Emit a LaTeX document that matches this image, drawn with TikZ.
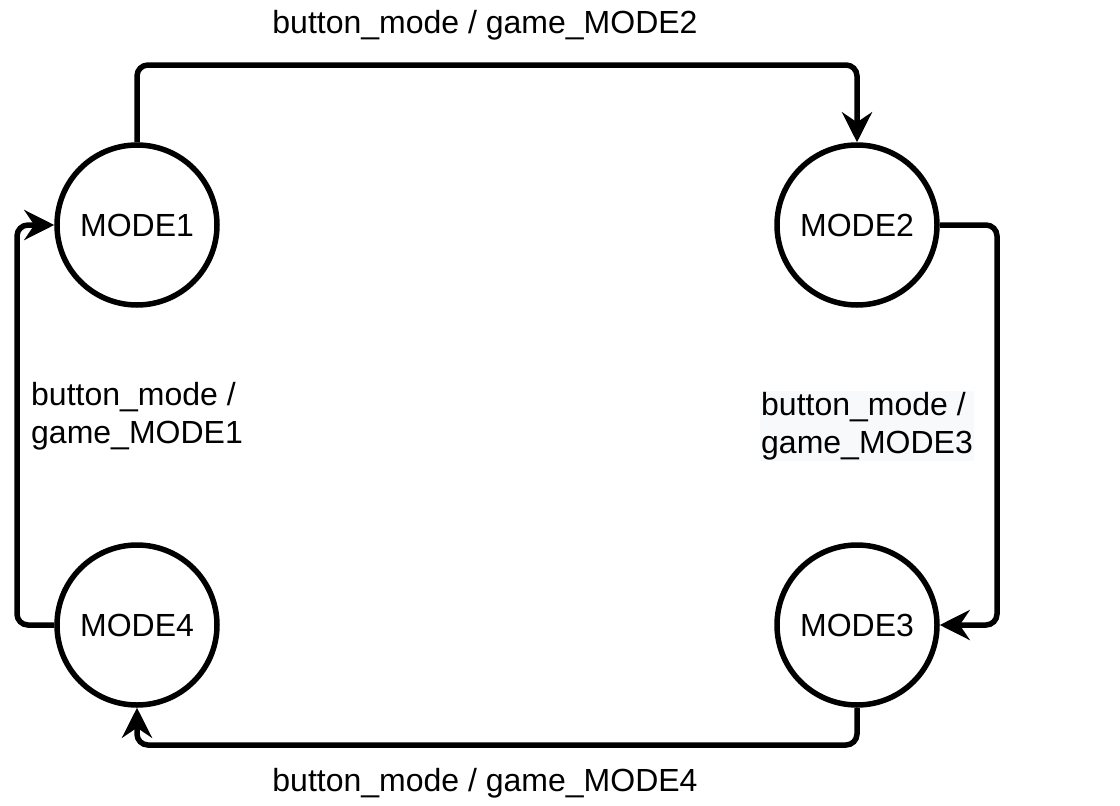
\documentclass[tikz,border=0pt]{standalone}
\usepackage{fontspec}
\setmainfont{Liberation Sans}
\usetikzlibrary{arrows.meta}
\definecolor{lblbg}{HTML}{F8F9FA}
\begin{document}
\begin{tikzpicture}[x=1pt,y=-1pt,
  state/.style={circle,draw,line width=5.5pt,minimum size=160pt,inner sep=0pt,font=\fontsize{32}{38.5}\selectfont},
  conn/.style={line width=5.5pt,rounded corners=11pt,-{Stealth[length=30pt,width=30pt,inset=10pt]}},
  lbl/.style={inner sep=0pt,font=\fontsize{32}{38.5}\selectfont}]
\useasboundingbox (0,0) rectangle (1120,806);
\node[state] (m1) at (137,225) {MODE1};
\node[state] (m2) at (857,225) {MODE2};
\node[state] (m3) at (857,625) {MODE3};
\node[state] (m4) at (137,625) {MODE4};
\coordinate (c1) at (137,65);
\coordinate (c2) at (857,65);
\coordinate (c3) at (997,225);
\coordinate (c4) at (997,625);
\coordinate (c5) at (857,745);
\coordinate (c6) at (137,745);
\coordinate (c7) at (17,625);
\coordinate (c8) at (17,225);
\draw[conn] (m1.north) -- (c1) -- (c2) -- (m2.north);
\draw[conn] (m2.east) -- (c3) -- (c4) -- (m3.east);
\draw[conn] (m3.south) -- (c5) -- (c6) -- (m4.south);
\draw[conn] (m4.west) -- (c7) -- (c8) -- (m1.west);
\node[lbl] (l1) at (485,25) {button\_mode / game\_MODE2};
\node[lbl] (l3) at (485,783) {button\_mode / game\_MODE4};
\node[lbl,anchor=west,align=left] (l4) at (31,416) {button\_mode /\\game\_MODE1};
\node[lbl,anchor=west,align=left,fill=lblbg,inner sep=1pt] (l2) at (760,426) {button\_mode /\\game\_MODE3};
\end{tikzpicture}
\end{document}
